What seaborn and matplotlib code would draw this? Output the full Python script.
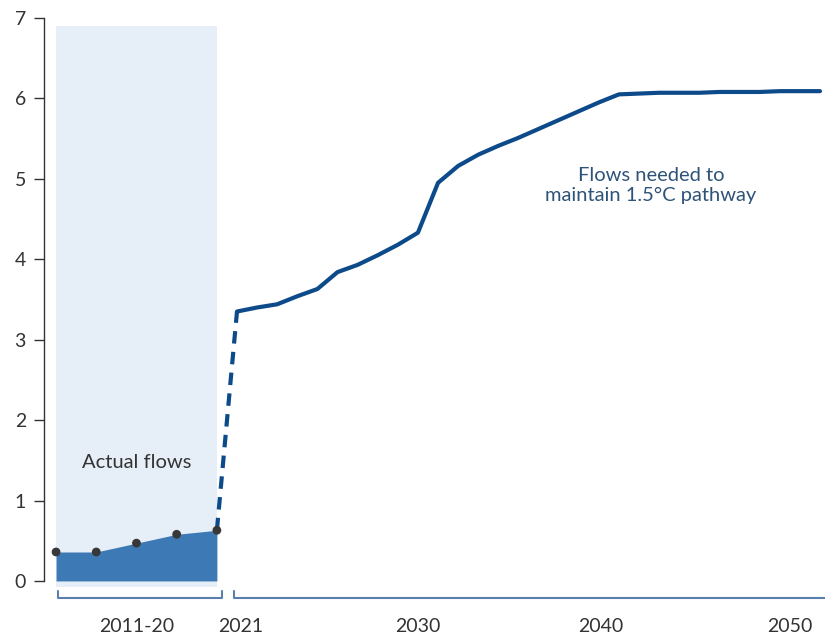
import matplotlib
matplotlib.use("Agg")
import matplotlib.pyplot as plt
import seaborn as sns
import pandas as pd

# Actual flows, 2011-20 (two-year points)
actual_years = [2012, 2014, 2016, 2018, 2020]
actual_values = [0.36, 0.36, 0.47, 0.58, 0.63]

# Flows needed to keep the 1.5C pathway
needed_years = list(range(2021, 2051))
needed_values = [3.35, 3.40, 3.44, 3.54, 3.63, 3.84, 3.93, 4.05, 4.18, 4.33,
                 4.95, 5.16, 5.30, 5.41, 5.51, 5.62, 5.73, 5.84, 5.95, 6.05,
                 6.06, 6.07, 6.07, 6.07, 6.08, 6.08, 6.08, 6.09, 6.09, 6.09]

x_tick_pos = [2016, 2021.2, 2030, 2039.1, 2048.5]
x_tick_labels = ["2011-20", "2021", "2030", "2040", "2050"]

line_color = "#0d4a8a"
fill_color = "#3d79b4"
shade_color = "#e6eff8"
bracket_color = "#5b7fad"
text_color = "#333333"

sns.set_theme(style="white")
plt.rcParams["font.family"] = ["Lato", "DejaVu Sans"]

fig = plt.figure(figsize=(8.25, 6.35), dpi=100)
ax = fig.add_axes([44 / 825, 0.075, 1 - 44 / 825, 0.8967])

# light shaded box behind the historic period
ax.fill_between([2012, 2020], -0.08, 6.9, color=shade_color, lw=0, zorder=0)

# actual flows area + dots
ax.fill_between(actual_years, 0, actual_values, color=fill_color, lw=0, zorder=1)
actual = pd.DataFrame({"year": actual_years, "value": actual_values})
sns.scatterplot(data=actual, x="year", y="value", color="#383838", s=40,
                edgecolor="none", zorder=4, ax=ax)

# dashed jump from last actual point to first needed point
jump = pd.DataFrame({"year": [actual_years[-1], needed_years[0]],
                     "value": [actual_values[-1], needed_values[0]]})
sns.lineplot(data=jump, x="year", y="value", color=line_color, lw=3,
             linestyle=(0, (3, 2)), zorder=3, ax=ax)

needed = pd.DataFrame({"year": needed_years, "value": needed_values})
sns.lineplot(data=needed, x="year", y="value", color=line_color, lw=3,
             zorder=3, ax=ax)

ax.text(2016, 1.47, "Actual flows", ha="center", va="center", fontsize=14.5,
        color=text_color)
ax.text(2041.6, 4.92, "Flows needed to\nmaintain 1.5\u00b0C pathway",
        ha="center", va="center", fontsize=14.5, color="#2e5378",
        linespacing=1.2)

ax.set_xlim(2011.4, 2050.25)
ax.set_ylim(-0.08, 7)
ax.set_yticks(range(0, 8))
ax.set_xticks(x_tick_pos)
ax.set_xticklabels(x_tick_labels)
ax.tick_params(axis="y", length=7, width=1, color="#333333", labelsize=14,
               labelcolor=text_color, pad=6, left=True)
ax.tick_params(axis="x", length=0, labelsize=14, labelcolor=text_color, pad=22)
ax.set_xlabel("")
ax.set_ylabel("")

for side in ["top", "right", "bottom"]:
    ax.spines[side].set_visible(False)
ax.spines["left"].set_bounds(0, 7)
ax.spines["left"].set_color("#333333")
ax.spines["left"].set_linewidth(1)

# brackets under the x axis
ax.plot([2012.1, 2012.1, 2020.25, 2020.25], [-0.13, -0.21, -0.21, -0.13],
        color=bracket_color, lw=1.5, clip_on=False)
ax.plot([2020.85, 2020.85, 2051], [-0.13, -0.21, -0.21],
        color=bracket_color, lw=1.5, clip_on=False)

fig.savefig("out.png", dpi=100)
